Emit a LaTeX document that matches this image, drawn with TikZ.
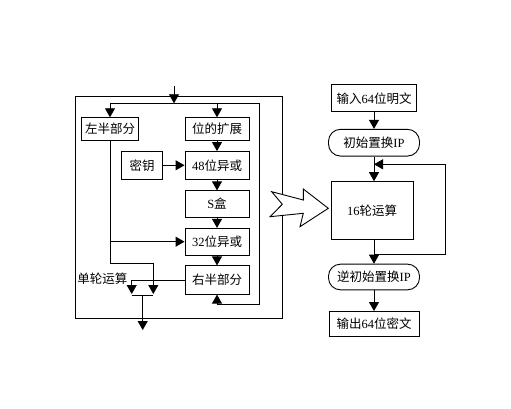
\documentclass[tikz,border=0pt]{standalone}
\usepackage{fontspec}
\setmainfont{Liberation Serif}
\newfontfamily\cjk{Noto Sans CJK SC}
\newcommand{\zh}[1]{{\cjk #1}}
\usetikzlibrary{arrows.meta}

\begin{document}
\begin{tikzpicture}[x=1pt,y=-1pt,line width=0.9pt,
  box/.style={draw, inner sep=0pt, font=\fontsize{12.5}{14}\selectfont},
  pill/.style={box, rounded corners=12pt},
  arr/.style={-{Triangle[width=10pt,length=9pt]}}]
\useasboundingbox (0,0) rectangle (511,409);
% single round
\draw (75,96) rectangle (282,318);
\node[box, minimum width=57pt, minimum height=22.5pt] (left) at (110,129) {\zh{左半部分}};
\node[box, minimum width=64pt, minimum height=22.5pt] (expand) at (217,129) {\zh{位的扩展}};
\node[box, minimum width=41pt, minimum height=27.5pt] (key) at (142,165.3) {\zh{密钥}};
\node[box, minimum width=64pt, minimum height=27.5pt] (xorA) at (217,165.3) {48\zh{位异或}};
\node[box, minimum width=64pt, minimum height=26.3pt] (sbox) at (217,204) {S\zh{盒}};
\node[box, minimum width=64pt, minimum height=26.7pt] (xorB) at (217,241.7) {32\zh{位异或}};
\node[box, minimum width=64pt, minimum height=28.3pt] (right) at (217,280) {\zh{右半部分}};
\node[anchor=west, inner sep=0pt, font=\fontsize{12.5}{14}\selectfont] (round) at (77,279) {\zh{单轮运算}};
\coordinate (in) at (174,86);
\coordinate (tl) at (110,103.3);
\coordinate (tr) at (259,103.3);
\coordinate (mL) at (131.7,294);
\coordinate (mR) at (153.3,294);
\coordinate (mB) at (142.7,330);
\draw[arr] (in) -- (in |- tl);
\draw[arr] (tl) -- (tr) -- (259,304) -| (right.south);
\draw[arr] (tl) -- (left);
\draw[arr] (expand.north |- tr) -- (expand);
\draw[arr] (expand) -- (xorA);
\draw[arr] (key) -- (xorA);
\draw[arr] (xorA) -- (sbox);
\draw[arr] (sbox) -- (xorB);
\draw[arr] (xorB) -- (right);
\draw[arr] (left.south) -- (110,263.3) -| (mR);
\draw[arr] (left.south |- xorB.west) -- (xorB.west);
\draw[arr] (right.west) -| (mL);
\draw (mL) ++(0,1) -- ([yshift=-1pt]mR);
\draw[arr] (mB |- 0,295) -- (mB);
% big arrow
\draw[fill=white] (271.7,191.7) -- (303.3,200) -- (303.3,189) -- (328.3,208.3)
  -- (300,226.7) -- (303.3,213.3) -- (270,216.7) -- (282.3,204.3) -- cycle;
% whole flow
\node[box, minimum width=85pt, minimum height=26.7pt] (plain) at (374,98.3) {\zh{输入}64\zh{位明文}};
\node[pill, minimum width=91pt, minimum height=26.7pt] (ip) at (374,142.7) {\zh{初始置换}IP};
\node[box, minimum width=82pt, minimum height=57.3pt] (rounds) at (372,210.3) {16\zh{轮运算}};
\node[pill, minimum width=91pt, minimum height=25.7pt] (iip) at (374,277) {\zh{逆初始置换}IP};
\node[box, minimum width=90pt, minimum height=25pt] (cipher) at (374,324) {\zh{输出}64\zh{位密文}};
\coordinate (jb) at (374,254);
\coordinate (jt) at (374,164.3);
\draw[arr] (plain) -- (ip);
\draw[arr] (ip.south) -- (ip.south |- rounds.north);
\draw[arr] (jb) -| (445,164.3) -- (jt);
\draw[arr] (rounds.south -| iip.north) -- (iip);
\draw[arr] (iip) -- (cipher);
\end{tikzpicture}
\end{document}
